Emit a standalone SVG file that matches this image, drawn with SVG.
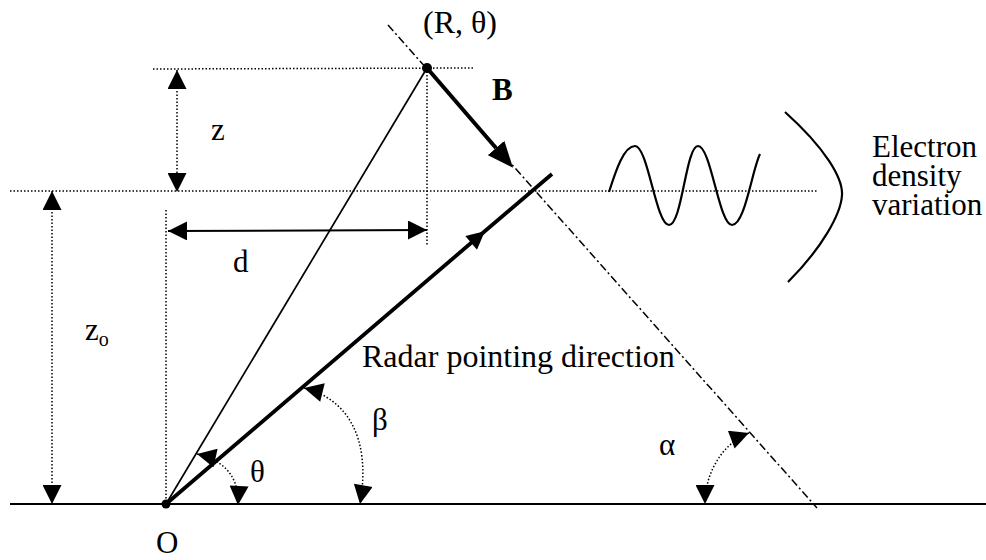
<svg xmlns="http://www.w3.org/2000/svg" width="986" height="560" viewBox="0 0 986 560">
<style>
.t{font-family:"Liberation Serif","Times New Roman",serif;font-size:31px;fill:#000}
.dot{fill:none;stroke:#000;stroke-width:1.5;stroke-dasharray:1.5 2}
.dd{fill:none;stroke:#000;stroke-width:1.5;stroke-dasharray:8 3 2 3}
.sol{fill:none;stroke:#000}
</style>
<defs>
<marker id="ah" viewBox="0 0 20 20" refX="20" refY="10" markerWidth="20" markerHeight="19" markerUnits="userSpaceOnUse" orient="auto-start-reverse"><path d="M0,0 L20,10 L0,20 z" fill="#000"/></marker>
<marker id="ahmid" viewBox="0 0 20 20" refX="10" refY="10" markerWidth="20" markerHeight="18" markerUnits="userSpaceOnUse" orient="auto"><path d="M0,0 L20,10 L0,20 z" fill="#000"/></marker>
<marker id="ahB" viewBox="0 0 26 22" refX="0" refY="11" markerWidth="26" markerHeight="22" markerUnits="userSpaceOnUse" orient="auto"><path d="M0,0 L26,11 L0,22 z" fill="#000"/></marker>
</defs>
<rect width="986" height="560" fill="#fff"/>
<g id="connectors">
<line class="dot" x1="153" y1="69" x2="473" y2="68"/>
<line class="dot" x1="10" y1="191" x2="817" y2="191"/>
<line class="dot" x1="166" y1="210" x2="166" y2="504"/>
<line class="dot" x1="427" y1="68" x2="427" y2="246"/>
<line class="dd" x1="388" y1="25" x2="817" y2="508"/>
<line class="sol" stroke-width="2" x1="10" y1="504" x2="986" y2="504"/>
<line class="sol" stroke-width="1.7" x1="166" y1="504" x2="427" y2="68"/>
<path class="sol" stroke-width="3.8" d="M166,504 L478,237 L552,174" marker-mid="url(#ahmid)"/>
<line class="sol" stroke-width="4" x1="427" y1="68" x2="496" y2="148" marker-end="url(#ahB)"/>
<line class="dot" x1="177" y1="70" x2="177" y2="192" marker-start="url(#ah)" marker-end="url(#ah)"/>
<line class="dot" x1="52" y1="191" x2="52" y2="504" marker-start="url(#ah)" marker-end="url(#ah)"/>
<line class="sol" stroke-width="2" x1="168" y1="231" x2="427" y2="230" marker-start="url(#ah)" marker-end="url(#ah)"/>
<path class="dot" d="M197,454 C215,458 240,470 238,505" marker-start="url(#ah)" marker-end="url(#ah)"/>
<path class="dot" d="M304,388 C345,398 372,435 360,504" marker-start="url(#ah)" marker-end="url(#ah)"/>
<path class="dot" d="M749,433 C725,442 705,470 705,504" marker-start="url(#ah)" marker-end="url(#ah)"/>
</g>
<g id="point-O"><circle cx="166" cy="504" r="4.5" fill="#000"/><text class="t" x="156" y="553" font-size="30">O</text></g>
<g id="point-R"><circle cx="427" cy="68" r="5" fill="#000"/><text class="t" x="423" y="33" style="font-size:32px">(R, θ)</text></g>
<g id="label-B"><text class="t" x="492" y="100" font-weight="bold">B</text></g>
<g id="label-z"><text class="t" x="211" y="140">z</text></g>
<g id="label-d"><text class="t" x="233" y="272">d</text></g>
<g id="label-zo"><text class="t" x="85" y="340">z<tspan style="font-size:20px" dy="6">o</tspan></text></g>
<g id="label-radar"><text class="t" x="362" y="367" style="font-size:32px">Radar pointing direction</text></g>
<g id="label-beta"><text class="t" x="372" y="430">β</text></g>
<g id="label-theta"><text class="t" x="250" y="482">θ</text></g>
<g id="label-alpha"><text class="t" x="659" y="455">α</text></g>
<g id="wave">
<path class="sol" stroke-width="2.2" d="M609,192 C616,170 624,146 635,146 C648,146 656,225 669,225 C682,225 686,146 698,146 C711,146 719,225 732,225 C745,225 752,170 760,154"/>
<path class="sol" stroke-width="2.2" d="M785,112 C825,148 843,178 842,195 C841,214 822,248 788,282"/>
</g>
<g id="label-electron"><text class="t"><tspan x="872" y="157">Electron</tspan><tspan x="872" y="186">density</tspan><tspan x="872" y="215">variation</tspan></text></g>
</svg>
